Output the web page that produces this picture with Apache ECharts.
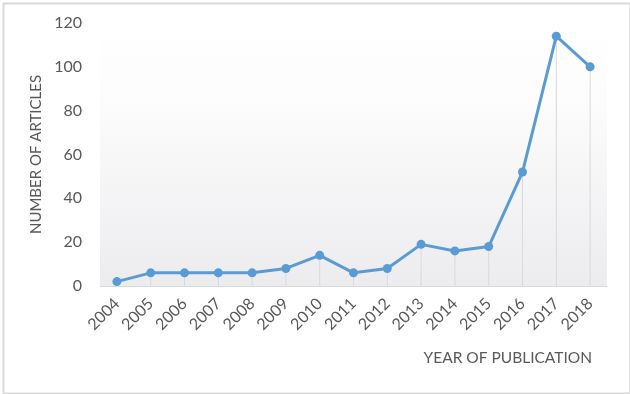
<!DOCTYPE html>
<html>
<head>
<meta charset="utf-8">
<script src="https://cdn.jsdelivr.net/npm/echarts@6/dist/echarts.min.js"></script>
<style>
html,body{margin:0;padding:0;background:#fff;}
#c{width:630px;height:394px;}
</style>
</head>
<body>
<div id="c"></div>
<script>
const years = ['2004','2005','2006','2007','2008','2009','2010','2011','2012','2013','2014','2015','2016','2017','2018'];
const articles = [2, 6, 6, 6, 6, 8, 14, 6, 8, 19, 16, 18, 52, 114, 100];
const yTicks = [0, 20, 40, 60, 80, 100, 120];
const yTitle = 'NUMBER OF ARTICLES';
const xTitle = 'YEAR OF PUBLICATION';

const FONT = 'Lato';
const chart = echarts.init(document.getElementById('c'), null, {renderer: 'canvas'});
chart.setOption({
  backgroundColor: '#ffffff',
  animation: false,
  grid: {
    left: 100, right: 23, top: 23, bottom: 108,
    show: true,
    borderWidth: 0,
    backgroundColor: new echarts.graphic.LinearGradient(0, 0, 0, 1, [
      {offset: 0, color: '#ffffff'},
      {offset: 0.3, color: '#fcfcfc'},
      {offset: 1, color: '#ececef'}
    ])
  },
  graphic: [
    {type: 'rect', left: 1, top: 1, shape: {width: 627, height: 390},
     style: {fill: 'none', stroke: '#d9d9d9', lineWidth: 2}, silent: true},
    {type: 'text', right: 38, top: 350,
     style: {text: xTitle, font: '15.5px ' + FONT, fill: '#595959'}}
  ],
  xAxis: {
    type: 'category',
    data: years,
    boundaryGap: true,
    axisLine: {lineStyle: {color: '#d9d9d9', width: 1}},
    axisTick: {show: false},
    axisLabel: {rotate: 45, margin: 15, fontSize: 16, fontFamily: FONT, color: '#595959', interval: 0},
    splitLine: {show: false}
  },
  yAxis: {
    type: 'value',
    min: yTicks[0], max: yTicks[yTicks.length - 1], interval: 20,
    name: yTitle,
    nameLocation: 'middle',
    nameGap: 54,
    nameRotate: 90,
    nameTextStyle: {fontSize: 15, fontFamily: FONT, color: '#595959'},
    axisLine: {show: false},
    axisTick: {show: false},
    splitLine: {show: false},
    axisLabel: {margin: 18, fontSize: 16, fontFamily: FONT, color: '#595959'}
  },
  series: [
    {
      type: 'bar',
      data: articles,
      barWidth: 1,
      itemStyle: {color: '#d9d9d9'},
      z: 1,
      silent: true
    },
    {
      type: 'line',
      data: articles,
      symbol: 'circle',
      symbolSize: 9,
      lineStyle: {color: '#5b9bd5', width: 3},
      itemStyle: {color: '#5b9bd5'},
      z: 3
    }
  ]
});
</script>
</body>
</html>
